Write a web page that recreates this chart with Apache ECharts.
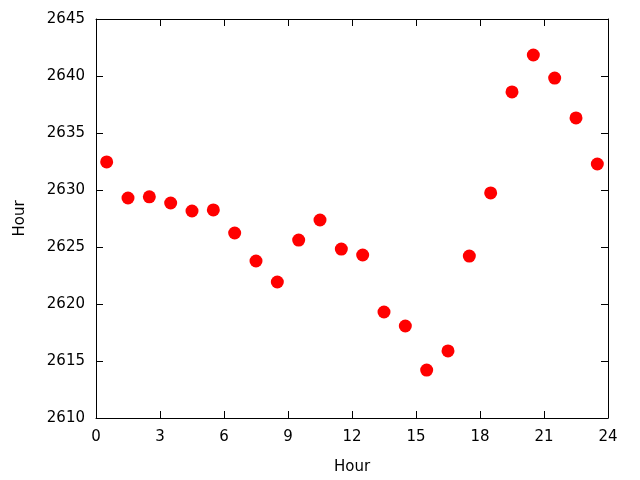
<!DOCTYPE html>
<html><head><meta charset="utf-8">
<script src="https://cdn.jsdelivr.net/npm/echarts@6/dist/echarts.min.js"></script>
<style>html,body{margin:0;padding:0;background:#fff}#c{width:640px;height:480px}</style>
</head><body><div id="c"></div>
<script>
const hours = [0.5,1.5,2.5,3.5,4.5,5.5,6.5,7.5,8.5,9.5,10.5,11.5,12.5,13.5,14.5,15.5,16.5,17.5,18.5,19.5,20.5,21.5,22.5,23.5];
const values = [2632.46,2629.3,2629.4,2628.86,2628.16,2628.25,2626.23,2623.77,2621.93,2625.61,2627.37,2624.82,2624.3,2619.3,2618.07,2614.2,2615.88,2624.2,2629.74,2638.6,2641.84,2639.82,2636.32,2632.28];
const xName = "Hour", yName = "Hour";
const font = '"DejaVu Sans"';
const chart = echarts.init(document.getElementById('c'));
const lineStyle = {color:'#000', width:1};
chart.setOption({
  animation:false,
  textStyle:{fontFamily:font},
  grid:{left:96, right:32, top:19, bottom:62, containLabel:false},
  xAxis:[{
    type:'value', min:0, max:24, interval:3,
    name:xName, nameLocation:'middle', nameGap:42,
    nameTextStyle:{fontFamily:font, fontSize:15, color:'#000'},
    axisLine:{show:true, onZero:false, lineStyle},
    axisTick:{show:true, inside:true, length:7, lineStyle},
    axisLabel:{fontFamily:font, fontSize:15, color:'#000', margin:12, formatter:v=>String(v)},
    splitLine:{show:false}
  },{
    type:'value', min:0, max:24, interval:3, position:'top',
    axisLine:{show:true, onZero:false, lineStyle},
    axisTick:{show:true, inside:true, length:7, lineStyle},
    axisLabel:{show:false}, splitLine:{show:false}
  }],
  yAxis:[{
    type:'value', min:2610, max:2645, interval:5,
    name:yName, nameLocation:'middle', nameGap:68, nameRotate:90,
    nameTextStyle:{fontFamily:font, fontSize:15, color:'#000'},
    axisLine:{show:true, onZero:false, lineStyle},
    axisTick:{show:true, inside:true, length:7, lineStyle},
    axisLabel:{fontFamily:font, fontSize:15, color:'#000', margin:11, formatter:v=>String(v)},
    splitLine:{show:false}
  },{
    type:'value', min:2610, max:2645, interval:5, position:'right',
    axisLine:{show:true, onZero:false, lineStyle},
    axisTick:{show:true, inside:true, length:7, lineStyle},
    axisLabel:{show:false}, splitLine:{show:false}
  }],
  series:[{
    type:'scatter', symbol:'circle', symbolSize:13,
    itemStyle:{color:'#ff0000', opacity:1},
    data: hours.map((h,i)=>[h, values[i]])
  }]
});
</script></body></html>
